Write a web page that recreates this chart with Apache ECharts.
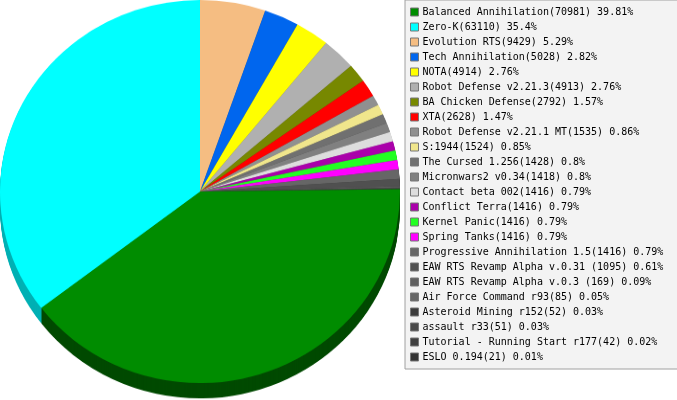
<!DOCTYPE html>
<html>
<head>
<meta charset="utf-8">
<style>
html,body{margin:0;padding:0;width:677px;height:400px;overflow:hidden;background:#fff}
#pie{position:absolute;left:0;top:0;width:402px;height:420px;transform-origin:0 0;transform:scaleY(0.9575)}
#legend{position:absolute;left:0;top:0;width:677px;height:400px}
</style>
<script src="https://cdn.jsdelivr.net/npm/echarts@6/dist/echarts.min.js"></script>
</head>
<body>
<div id="pie"></div>
<div id="legend"></div>
<script>
var names = ["Balanced Annihilation","Zero-K","Evolution RTS","Tech Annihilation","NOTA","Robot Defense v2.21.3","BA Chicken Defense","XTA","Robot Defense v2.21.1 MT","S:1944","The Cursed 1.256","Micronwars2 v0.34","Contact beta 002","Conflict Terra","Kernel Panic","Spring Tanks","Progressive Annihilation 1.5","EAW RTS Revamp Alpha v.0.31 ","EAW RTS Revamp Alpha v.0.3 ","Air Force Command r93","Asteroid Mining r152","assault r33","Tutorial - Running Start r177","ESLO 0.194"];
var values = [70981,63110,9429,5028,4914,4913,2792,2628,1535,1524,1428,1418,1416,1416,1416,1416,1416,1095,169,85,52,51,42,21];
var percents = ["39.81","35.4","5.29","2.82","2.76","2.76","1.57","1.47","0.86","0.85","0.8","0.8","0.79","0.79","0.79","0.79","0.79","0.61","0.09","0.05","0.03","0.03","0.02","0.01"];
var colors = ["#008c00","#00ffff","#f5bd82","#0066ee","#ffff00","#b0b0b0","#778800","#ff0000","#909090","#f0e68c","#707070","#808080","#dddddd","#aa00aa","#22ff22","#ff00ff","#666666","#505050","#606060","#666666","#3c3c3c","#4a4a4a","#404040","#333333"];
var sideColors = ["#004a00","#00b0b4","#a08050","#003c90","#a0a000","#707070","#4a5500","#a00000","#5c5c5c","#a09858","#484848","#505050","#909090","#6a006a","#149014","#a000a0","#404040","#303030","#3c3c3c","#404040","#242424","#2c2c2c","#282828","#202020"];

var indexes = names.map(function(_, i){ return i; });
var pieOrder = indexes.slice(2).concat(indexes.slice(0, 2));

function sliceData(palette){
  return pieOrder.map(function(i){
    return {name: names[i], value: values[i], itemStyle: {color: palette[i]}};
  });
}
function pieLayer(offset, palette){
  return {
    type: 'pie', silent: true, animation: false, clockwise: true, startAngle: 90,
    radius: [0, 200], center: [200, 200 + offset],
    label: {show: false}, labelLine: {show: false},
    emphasis: {disabled: true},
    data: sliceData(palette)
  };
}
var series = [];
for (var d = 16; d >= 1; d--) series.push(pieLayer(d, sideColors));
series.push(pieLayer(0, colors));

var pieChart = echarts.init(document.getElementById('pie'), null, {renderer: 'canvas'});
pieChart.setOption({animation: false, backgroundColor: 'transparent', series: series});

var legendChart = echarts.init(document.getElementById('legend'), null, {renderer: 'canvas'});
var labelByName = {};
names.forEach(function(n, i){ labelByName[n] = n + '(' + values[i] + ') ' + percents[i] + '%'; });
legendChart.setOption({
  animation: false,
  backgroundColor: 'transparent',
  legend: {
    orient: 'vertical', left: 405, top: 0,
    padding: [7, 30, 7, 5],
    backgroundColor: '#f3f3f3', borderColor: '#a0a0a0', borderWidth: 1,
    itemWidth: 8, itemHeight: 8, itemGap: 5, icon: 'rect',
    itemStyle: {borderColor: '#777777', borderWidth: 1},
    selectedMode: false,
    textStyle: {fontFamily: '"DejaVu Sans Mono", monospace', fontSize: 10, color: '#000', height: 9, lineHeight: 9, padding: [0,0,0,-1]},
    formatter: function(n){ return labelByName[n]; },
    data: names
  },
  series: [{
    type: 'pie', radius: [0, 0], center: [-50, -50], silent: true,
    label: {show: false}, labelLine: {show: false},
    data: names.map(function(n, i){ return {name: n, value: values[i], itemStyle: {color: colors[i]}}; })
  }]
});
</script>
</body>
</html>
